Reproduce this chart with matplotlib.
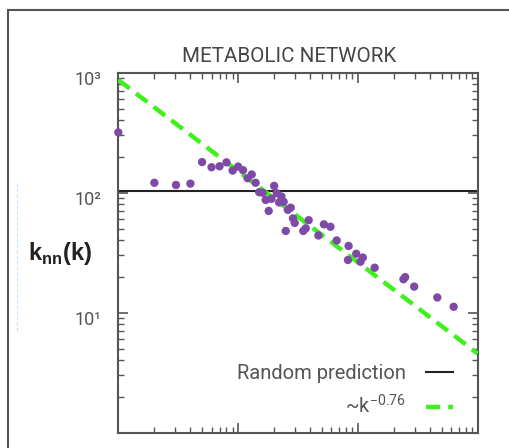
import matplotlib
matplotlib.use("Agg")
import matplotlib.pyplot as plt
import matplotlib.transforms as mtransforms
from matplotlib.lines import Line2D
import numpy as np

# ---- data ----
k_vals = [1, 2, 3.03, 4, 5, 6, 7, 8, 9, 10, 11, 12, 13, 14, 15, 16, 17, 18, 19, 20,
          21, 22, 23, 24, 25, 26, 27.5, 28.7, 29.7, 35, 36.7, 38.8, 46.8, 52, 59,
          66.5, 82.6, 83.6, 96.9, 105, 110, 138, 240, 248, 295, 460, 630]
knn_vals = [318, 121, 116, 119, 180, 163, 166, 179, 153, 165, 154, 132, 142, 121, 101,
            100, 87, 70.5, 89, 114, 99, 83, 93, 84, 48, 72, 75, 61, 56, 48, 50.5, 59,
            44, 54.5, 52, 40, 27.5, 36, 31, 26.6, 28.8, 23.7, 19, 19.8, 16.5, 13.4, 11.2]
random_prediction = 103
fit_coef = 870
fit_exponent = -0.76
fit_k = [1, 1000]
ytick_vals = [10, 100, 1000]
ytick_labels = ["10\u00b9", "10\u00b2", "10\u00b3"]

plt.rcParams['font.family'] = ['Roboto', 'DejaVu Sans']
plt.rcParams['mathtext.fontset'] = 'custom'
plt.rcParams['mathtext.rm'] = 'Roboto'

W, H = 509, 448
fig = plt.figure(figsize=(W / 100, H / 100), dpi=100)
ax = fig.add_axes([118.3 / W, 1 - 432.7 / H, 359.4 / W, 360 / H])

gray = '#555555'

ax.set_xscale('log')
ax.set_yscale('log')
ax.set_xlim(1, 1000)
ax.set_ylim(1, 1000)

ax.axhline(random_prediction, color='#222222', lw=1.5, label='Random prediction', zorder=2)
fit_y = [fit_coef * k ** fit_exponent for k in fit_k]
ax.plot(fit_k, fit_y, color='#3ff01c', lw=3.2, ls=(0, (3.2, 1.8)),
        label=r'~k$^{\mathregular{-0.76}}$', zorder=3)
ax.scatter(k_vals, knn_vals, s=36, color='#7d4aa6', edgecolors='none', zorder=4, clip_on=False)

for sp in ax.spines.values():
    sp.set_color(gray)
    sp.set_linewidth(1.5)

ax.tick_params(which='both', direction='in', top=True, right=True, colors=gray)
ax.tick_params(which='major', length=7, width=1.2)
ax.tick_params(which='minor', length=4, width=1.0)
ax.set_yticks(ytick_vals)
ax.set_yticklabels(ytick_labels, fontsize=13, color=gray)
ax.tick_params(axis='y', which='major', pad=12)
ax.tick_params(axis='x', labelbottom=False)
ax.yaxis.set_minor_locator(matplotlib.ticker.LogLocator(base=10, subs=np.arange(2, 10)))
ax.yaxis.set_minor_formatter(matplotlib.ticker.NullFormatter())
ax.xaxis.set_minor_locator(matplotlib.ticker.LogLocator(base=10, subs=np.arange(2, 10)))

offset = mtransforms.ScaledTranslation(0, -5 / 100, fig.dpi_scale_trans)
for lab in ax.get_yticklabels():
    lab.set_transform(lab.get_transform() + offset)

ax.set_title('METABOLIC NETWORK', fontsize=14.8, color='#444444', pad=8, x=0.476)
fig.text(60 / W, 1 - 253 / H, r'k$_{\mathregular{nn}}$(k)', fontsize=17, fontweight='bold',
         family=['Liberation Sans'], color='#222222', ha='center', va='center')

leg = ax.legend(loc='lower right', bbox_to_anchor=(0.93, 0.042), frameon=False,
                markerfirst=False, fontsize=14.5, handlelength=1.3, handletextpad=1.0,
                labelspacing=0.55, borderpad=0, borderaxespad=0)
for t in leg.get_texts():
    t.set_color(gray)

# outer frame
fig.add_artist(plt.Rectangle((8 / W, -0.1), 1.2, 1 - 10 / H + 0.1, transform=fig.transFigure,
                             fill=False, edgecolor=gray, lw=1.5))
fig.add_artist(Line2D([17 / W, 17 / W], [1 - 183 / H, 1 - 333 / H], transform=fig.transFigure,
                      color='#bfe3f5', lw=0.8, ls=(0, (3, 2))))

fig.savefig('out.png', dpi=100)
